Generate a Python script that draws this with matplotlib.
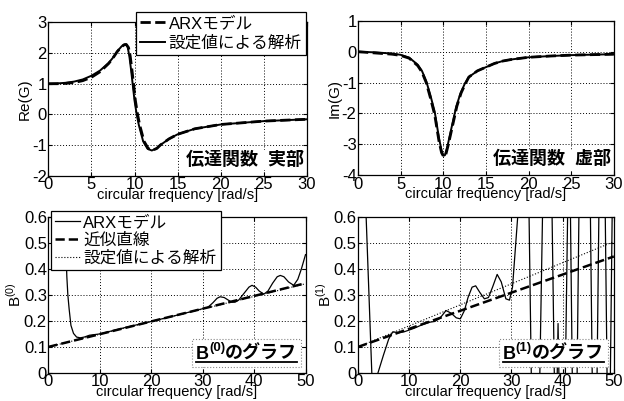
import matplotlib
matplotlib.use("Agg")
import matplotlib.pyplot as plt
from matplotlib.lines import Line2D
from matplotlib.patches import Rectangle
from matplotlib.transforms import Bbox

plt.rcParams['font.family'] = ['Liberation Sans', 'Noto Sans CJK JP', 'DejaVu Sans']
plt.rcParams['mathtext.fontset'] = 'custom'
plt.rcParams['mathtext.rm'] = 'Liberation Sans'
plt.rcParams['mathtext.bf'] = 'Liberation Sans:bold'
plt.rcParams['axes.unicode_minus'] = False

# ---------------- data ----------------
# Real part
re_w_an = [0, 1, 2, 3, 4, 5, 6, 7, 7.5, 8, 8.5, 8.8, 9.0, 9.2, 9.4, 9.6, 9.8, 10.0, 10.25,
           10.5, 11, 11.5, 12, 12.5, 13, 14, 15, 17, 20, 25, 30]
re_an = [1.0, 1.01, 1.03, 1.07, 1.14, 1.26, 1.43, 1.68, 1.85, 2.06, 2.22, 2.28, 2.29, 2.2, 1.9,
         1.45, 0.95, 0.45, 0.0, -0.35, -0.88, -1.12, -1.18, -1.12, -1.0, -0.8, -0.65, -0.47,
         -0.33, -0.22, -0.16]
re_w_arx = [0, 1, 2, 3, 4, 5, 6, 7, 7.5, 8, 8.5, 8.8, 9.05, 9.3, 9.5, 9.7, 9.9, 10.1, 10.35,
            10.6, 11.1, 11.6, 12.1, 12.6, 13, 14, 15, 17, 20, 25, 30]
re_arx = [1.0, 1.0, 1.01, 1.04, 1.10, 1.21, 1.39, 1.66, 1.84, 2.05, 2.21, 2.27, 2.28, 2.18, 1.9,
          1.45, 0.95, 0.45, 0.0, -0.35, -0.88, -1.12, -1.17, -1.11, -1.0, -0.8, -0.65, -0.47,
          -0.33, -0.22, -0.16]

# Imaginary part
im_w_an = [0, 2, 4, 5, 6, 7, 7.5, 8, 8.5, 9, 9.5, 9.8, 10.0, 10.2, 10.5, 11, 11.5, 12, 12.5,
           13, 14, 15, 16, 17, 18, 20, 22.5, 25, 30]
im_an = [0, -0.02, -0.06, -0.1, -0.19, -0.42, -0.62, -0.95, -1.42, -1.95, -2.8, -3.2, -3.37,
         -3.35, -3.05, -2.42, -1.8, -1.36, -1.05, -0.82, -0.62, -0.5, -0.38, -0.3, -0.25,
         -0.18, -0.14, -0.11, -0.08]
im_w_arx = [0, 2, 4, 5, 6, 7, 7.5, 8, 8.5, 9, 9.5, 9.8, 10.05, 10.3, 10.6, 11.1, 11.6, 12.1,
            12.6, 13, 14, 15, 16, 17, 18, 20, 22.5, 25, 30]
im_arx = [0, -0.04, -0.08, -0.12, -0.21, -0.45, -0.66, -1.0, -1.5, -2.05, -2.9, -3.27, -3.4,
          -3.33, -3.0, -2.38, -1.76, -1.33, -1.03, -0.82, -0.62, -0.5, -0.38, -0.3, -0.25,
          -0.18, -0.14, -0.11, -0.08]

# B(0)
b0_line_w = [0, 50]
b0_line = [0.1, 0.345]
b0_an = [0.1, 0.343]
b0_w_arx = [3.2, 3.4, 3.6, 3.8, 4.05, 4.4, 4.9, 5.5, 6.2, 7, 8, 10, 15, 20, 25, 30, 31, 32,
            32.8, 33.4, 34.2, 35, 35.7, 36.3, 37, 38, 39, 39.6, 40.3, 41, 41.9, 42.7, 43.6,
            44.5, 45.1, 45.8, 46.7, 47.7, 48.5, 49.2, 50]
b0_arx = [0.65, 0.5, 0.372, 0.3, 0.246, 0.183, 0.152, 0.138, 0.135, 0.138, 0.145, 0.15,
          0.175, 0.198, 0.222, 0.247, 0.252, 0.27, 0.287, 0.293, 0.29, 0.28, 0.272, 0.272,
          0.28, 0.305, 0.33, 0.337, 0.33, 0.315, 0.303, 0.315, 0.345, 0.37, 0.375, 0.37,
          0.35, 0.337, 0.36, 0.4, 0.455]

# B(1)
b1_line_w = [0, 50]
b1_line = [0.1, 0.448]
b1_an = [0.1, 0.505]
b1_w_arx = [1.5, 2.7, 3.2, 3.9, 5.0, 6.0, 6.8, 8, 9, 10, 11, 12.5, 14, 15, 16, 17.2, 18.2,
            19.2, 20, 20.8, 21.5, 22.3, 23.0, 23.8, 24.7, 25.5, 26.3, 27.2, 28.0, 28.9, 29.6,
            30.2, 31.4, 33.4, 33.9, 35.5, 36.1, 37.9, 38.4, 38.9, 39.1, 39.3, 40.5, 41.0,
            41.5, 41.9, 42.8, 43.2, 45.4, 45.8, 46.7, 47.1, 48.3, 48.7, 49.3, 49.7, 50]
b1_arx = [0.65, 0.0, -0.05, 0.0, 0.07, 0.13, 0.158, 0.155, 0.158, 0.165, 0.172, 0.185, 0.195,
          0.198, 0.21, 0.24, 0.23, 0.212, 0.208, 0.24, 0.29, 0.33, 0.335, 0.31, 0.285, 0.29,
          0.33, 0.379, 0.35, 0.285, 0.28, 0.33, 0.65, 0.65, -0.05, -0.05, 0.65, 0.65, -0.05,
          -0.05, 0.19, -0.05, -0.05, 0.65, 0.65, -0.05, -0.05, 0.65, 0.65, -0.05, -0.05,
          0.65, 0.65, -0.05, -0.05, 0.65, 0.65]

# ---------------- figure ----------------
fig = plt.figure(figsize=(6.24, 4.01), dpi=100)
ax1 = fig.add_axes([0.0774, 0.562, 0.4146, 0.382])
ax2 = fig.add_axes([0.5737, 0.563, 0.4100, 0.385])
ax3 = fig.add_axes([0.0774, 0.0700, 0.4122, 0.389])
ax4 = fig.add_axes([0.5737, 0.0700, 0.4100, 0.389])

TICKFS = 12
LABFS = 10.5
LEGFS = 12


def style(ax, xt, yt, xlim, ylim, ylab, yfmt=None):
    ax.set_xlim(*xlim)
    ax.set_ylim(*ylim)
    ax.set_xticks(xt)
    ax.set_yticks(yt)
    if yfmt:
        ax.set_yticklabels([yfmt(v) for v in yt])
    ax.grid(True, color='black', linestyle=(0, (1, 2)), linewidth=0.7)
    ax.tick_params(direction='in', length=3, top=True, right=True, labelsize=TICKFS, pad=1)
    ax.set_xlabel('circular frequency [rad/s]', fontsize=LABFS, labelpad=-3)
    ax.set_ylabel(ylab, fontsize=LABFS + 0.5, labelpad=0)
    for s in ax.spines.values():
        s.set_linewidth(0.9)


def b_fmt(v):
    return '0' if v == 0 else ('%.1f' % v)


def b_label(ax, x, y, sup):
    t1 = ax.text(x, y, 'B', transform=ax.transAxes, ha='left', va='baseline',
                 fontsize=13, fontweight='bold', zorder=6)
    t2 = ax.annotate(sup, xy=(1, 0.55), xycoords=t1, ha='left', va='bottom',
                     fontsize=9.5, fontweight='bold', zorder=6)
    t3 = ax.annotate('のグラフ', xy=(1, 0), xycoords=(t2, t1), ha='left', va='bottom',
                     fontsize=13, fontweight='bold', zorder=6)
    return [t1, t2, t3]


def decorate(ax, texts):
    r = fig.canvas.get_renderer()
    bb = Bbox.union([t.get_window_extent(r) for t in texts])
    inv = ax.transAxes.inverted()
    (x0, y0) = inv.transform((bb.x0 - 4, bb.y0 - 4))
    (x1, y1) = inv.transform((bb.x1 + 4, bb.y1 + 3))
    ax.add_patch(Rectangle((x0, y0), x1 - x0, y1 - y0, transform=ax.transAxes,
                           facecolor='white', edgecolor='#888888', linestyle=':',
                           linewidth=0.8, zorder=5))
    (ux0, uy) = inv.transform((bb.x0, bb.y0 + 1))
    (ux1, _) = inv.transform((bb.x1, bb.y0 + 1))
    ax.add_line(Line2D([ux0, ux1], [uy, uy], transform=ax.transAxes, color='black',
                       lw=1.3, zorder=7))


# Re(G)
ax1.plot(re_w_arx, re_arx, 'k--', lw=2.0, label='ARXモデル')
ax1.plot(re_w_an, re_an, 'k-', lw=1.4, label='設定値による解析')
style(ax1, range(0, 31, 5), range(-2, 4), (0, 30), (-2, 3), 'Re(G)')
leg = ax1.legend(loc='upper right', bbox_to_anchor=(0.995, 1.07), fontsize=LEGFS,
                 fancybox=False, edgecolor='black', framealpha=1, handlelength=1.5,
                 handletextpad=0.2, borderpad=0.25, labelspacing=0.25, borderaxespad=0)
leg.get_frame().set_linewidth(0.9)
ax1.text(0.99, 0.045, '伝達関数  実部', transform=ax1.transAxes, ha='right', va='bottom',
         fontsize=13, fontweight='bold',
         bbox=dict(facecolor='white', edgecolor='none', pad=1))

# Im(G)
ax2.plot(im_w_arx, im_arx, 'k--', lw=2.0)
ax2.plot(im_w_an, im_an, 'k-', lw=1.4)
style(ax2, range(0, 31, 5), range(-4, 2), (0, 30), (-4, 1), 'Im(G)')
ax2.text(0.99, 0.045, '伝達関数  虚部', transform=ax2.transAxes, ha='right', va='bottom',
         fontsize=13, fontweight='bold',
         bbox=dict(facecolor='white', edgecolor='none', pad=1))

# B(0)
yt = [0, 0.1, 0.2, 0.3, 0.4, 0.5, 0.6]
ax3.plot(b0_w_arx, b0_arx, 'k-', lw=0.9, label='ARXモデル')
ax3.plot(b0_line_w, b0_line, 'k--', lw=1.8, label='近似直線')
ax3.plot(b0_line_w, b0_an, 'k:', lw=0.8, label='設定値による解析')
style(ax3, range(0, 51, 10), yt, (0, 50), (0, 0.6), 'B$^{(0)}$', b_fmt)
leg = ax3.legend(loc='upper left', bbox_to_anchor=(0.01, 1.04), fontsize=LEGFS,
                 fancybox=False, edgecolor='black', framealpha=1, handlelength=1.5,
                 handletextpad=0.2, borderpad=0.25, labelspacing=0.15, borderaxespad=0)
leg.get_frame().set_linewidth(0.9)
leg.set_zorder(8)
lab3 = b_label(ax3, 0.575, 0.09, '(0)')

# B(1)
ax4.plot(b1_w_arx, b1_arx, 'k-', lw=0.9)
ax4.plot(b1_line_w, b1_line, 'k--', lw=1.8)
ax4.plot(b1_line_w, b1_an, 'k:', lw=0.8)
style(ax4, range(0, 51, 10), yt, (0, 50), (0, 0.6), 'B$^{(1)}$', b_fmt)
lab4 = b_label(ax4, 0.565, 0.09, '(1)')

fig.canvas.draw()
decorate(ax3, lab3)
decorate(ax4, lab4)

fig.savefig('out.png', dpi=100)
